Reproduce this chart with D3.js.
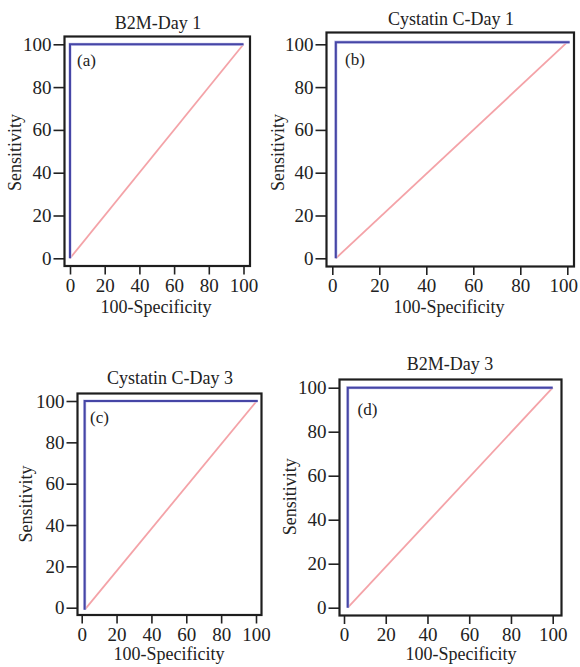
<!DOCTYPE html>
<html>
<head>
<meta charset="utf-8">
<script src="https://cdn.jsdelivr.net/npm/d3@7"></script>
<style>
  body { margin: 0; background: #fff; }
  svg text { font-family: "Liberation Serif", "Times New Roman", serif; fill: #222; }
</style>
</head>
<body>
<svg id="chart" width="580" height="667"></svg>
<script>
// ---- data ----
const titles = ["B2M-Day 1", "Cystatin C-Day 1", "Cystatin C-Day 3", "B2M-Day 3"];
const tags = ["(a)", "(b)", "(c)", "(d)"];
const xTicks = [0, 20, 40, 60, 80, 100];
const yTicks = [0, 20, 40, 60, 80, 100];
// ROC curve points [100-Specificity, Sensitivity]
const rocA = [[0, 0], [0, 100], [100, 100]];
const rocB = [[1.5, 0], [1.5, 101], [101, 101]];
const rocC = [[1.7, -1], [1.7, 100], [101, 100]];
const rocD = [[1.8, 0], [1.8, 100], [100, 100]];
// reference (chance) lines
const refA = [[0, 0], [100, 100]];
const refB = [[1.5, 0], [100, 101]];
const refC = [[2, -0.7], [100.4, 100]];
const refD = [[1.8, 0], [100, 100]];
const rocs = [rocA, rocB, rocC, rocD];
const refs = [refA, refB, refC, refD];

// ---- layout (pixel positions of each panel) ----
const panels = [
  { box: [64.5, 36.5, 250, 266], x: [70, 243.5], y: [258.3, 44.3], title: [158, 29], xlab: [156, 313], ylab: [21, 152.5], tag: [77, 66] },
  { box: [326.5, 32.5, 574, 266.5], x: [332.3, 567.3], y: [258.3, 44.3], title: [451, 25], xlab: [449, 313], ylab: [284, 152.5], tag: [345, 65] },
  { box: [77.5, 393.5, 261.5, 615], x: [81.7, 256], y: [607.7, 401], title: [170, 384], xlab: [169, 660], ylab: [32, 504], tag: [90, 423] },
  { box: [339.5, 379.5, 561.5, 615.5], x: [344, 552.7], y: [607.7, 387.7], title: [450, 370], xlab: [461, 660], ylab: [295.5, 496.7], tag: [357.5, 415] }
];

const svg = d3.select("#chart");

panels.forEach((p, i) => {
  const g = svg.append("g");
  const x = d3.scaleLinear().domain([0, 100]).range(p.x);
  const y = d3.scaleLinear().domain([0, 100]).range(p.y);
  const [bx0, by0, bx1, by1] = p.box;

  // axes
  const xa = g.append("g").attr("transform", `translate(0,${by1})`)
    .call(d3.axisBottom(x).tickValues(xTicks).tickSize(8.5).tickPadding(4).tickFormat(d3.format("d")));
  const ya = g.append("g").attr("transform", `translate(${bx0},0)`)
    .call(d3.axisLeft(y).tickValues(yTicks).tickSize(11).tickPadding(2).tickFormat(d3.format("d")));
  [xa, ya].forEach(a => {
    a.select(".domain").remove();
    a.selectAll(".tick line").attr("stroke", "#222").attr("stroke-width", 1.6);
    a.selectAll(".tick text").attr("font-size", 19).attr("fill", "#222")
      .style("font-family", '"Liberation Serif", serif');
  });
  // keep tick labels inside the page
  xa.selectAll(".tick text").each(function () {
    const b = this.getBoundingClientRect();
    if (b.right > 578) d3.select(this).attr("dx", 578 - b.right);
  });

  // lines
  const line = d3.line().x(d => x(d[0])).y(d => y(d[1]));
  g.append("path").attr("d", line(refs[i])).attr("fill", "none")
    .attr("stroke", "#f4a3a8").attr("stroke-width", 1.8);
  g.append("path").attr("d", line(rocs[i])).attr("fill", "none")
    .attr("stroke", "#c9c9ec").attr("stroke-width", 3.2).attr("stroke-linejoin", "miter");
  g.append("path").attr("d", line(rocs[i])).attr("fill", "none")
    .attr("stroke", "#4646a6").attr("stroke-width", 2).attr("stroke-linejoin", "miter");

  // box
  g.append("rect").attr("x", bx0).attr("y", by0).attr("width", bx1 - bx0).attr("height", by1 - by0)
    .attr("fill", "none").attr("stroke", "#1e1e1e").attr("stroke-width", 2.2);

  // texts
  g.append("text").attr("x", p.title[0]).attr("y", p.title[1]).attr("text-anchor", "middle")
    .attr("font-size", 18).text(titles[i]);
  g.append("text").attr("x", p.xlab[0]).attr("y", p.xlab[1]).attr("text-anchor", "middle")
    .attr("font-size", 18).text("100-Specificity");
  g.append("text").attr("transform", `translate(${p.ylab[0]},${p.ylab[1]}) rotate(-90)`)
    .attr("text-anchor", "middle").attr("font-size", 18).text("Sensitivity");
  g.append("text").attr("x", p.tag[0]).attr("y", p.tag[1]).attr("font-size", 17).text(tags[i]);
});
</script>
</body>
</html>
